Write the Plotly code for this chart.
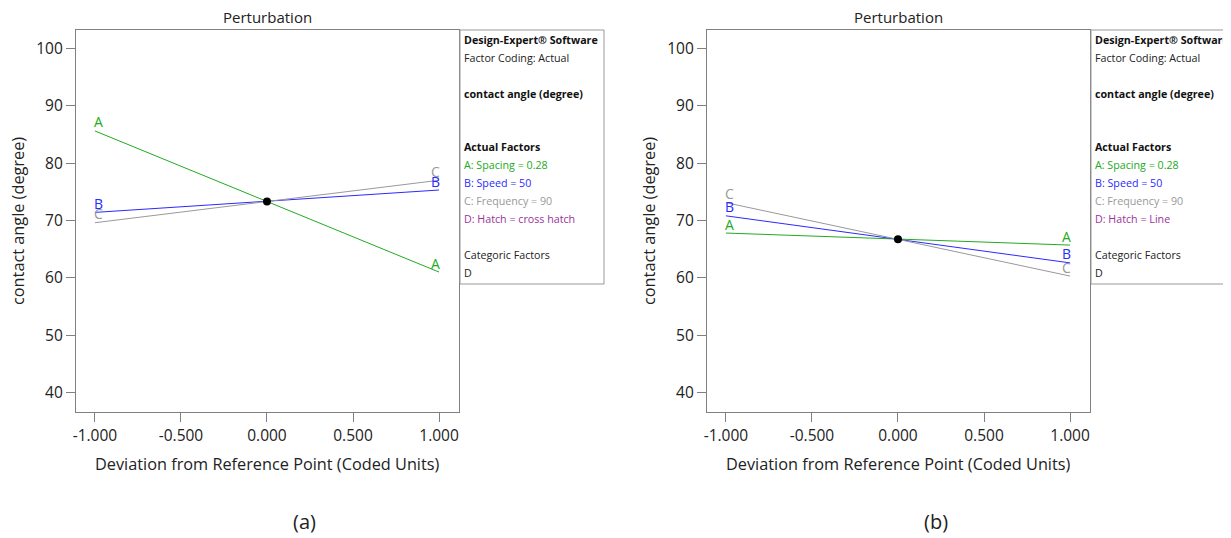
import plotly.graph_objects as go

PAGE_W, PAGE_H = 1231, 538
OFF = 8                      # default page body margin
W, H = PAGE_W - OFF, PAGE_H - OFF

# Data
x_coded = [-1.0, 0.0, 1.0]
factors = ["A", "B", "C"]
colors = {"A": "#22aa22", "B": "#2a2aff", "C": "#999999"}

a_left = [85.6, 73.3, 61.0]   # A spacing (panel a)
b_left = [71.4, 73.3, 75.3]   # B speed
c_left = [69.6, 73.3, 77.0]   # C frequency
ref_left = 73.3

a_right = [67.8, 66.7, 65.7]  # panel b
b_right = [70.8, 66.7, 62.6]
c_right = [73.1, 66.7, 60.3]
ref_right = 66.7

x_ticks = [-1.0, -0.5, 0.0, 0.5, 1.0]
x_ticktext = ["-1.000", "-0.500", "0.000", "0.500", "1.000"]
y_ticks = [40, 50, 60, 70, 80, 90, 100]

legend_left = [
    ("<b>Design-Expert® Software</b>", "#111111"),
    ("Factor Coding: Actual", "#222222"),
    ("", None),
    ("<b>contact angle (degree)</b>", "#111111"),
    ("", None), ("", None),
    ("<b>Actual Factors</b>", "#111111"),
    ("A: Spacing = 0.28", "#22aa22"),
    ("B: Speed = 50", "#2a2aff"),
    ("C: Frequency = 90", "#999999"),
    ("D: Hatch = cross hatch", "#993399"),
    ("", None),
    ("Categoric Factors", "#222222"),
    ("D", "#222222"),
]
legend_right = [(t.replace("cross hatch", "Line"), c) for t, c in legend_left]

FONT = "Open Sans, Noto Sans, sans-serif"


def px_x(p):
    return (p - OFF) / W


def px_y(p):
    return 1 - (p - OFF) / H


fig = go.Figure()

panels = [
    dict(xa="x", ya="y", series={"A": a_left, "B": b_left, "C": c_left}, ref=ref_left,
         x0=76, x1=459, legend=legend_left, lx0=460, lx1=604, tag="(a)", tagx=304),
    dict(xa="x2", ya="y2", series={"A": a_right, "B": b_right, "C": c_right}, ref=ref_right,
         x0=707, x1=1090, legend=legend_right, lx0=1091, lx1=1260, tag="(b)", tagx=936),
]

top_px, bot_px = 30, 412

annotations = []
shapes = []
for p in panels:
    for f in factors:
        fig.add_trace(go.Scatter(x=x_coded, y=p["series"][f], mode="lines",
                                 line=dict(color=colors[f], width=1),
                                 xaxis=p["xa"], yaxis=p["ya"], showlegend=False,
                                 hoverinfo="skip"))
        for xi, yi in ((x_coded[0], p["series"][f][0]), (x_coded[-1], p["series"][f][-1])):
            annotations.append(dict(x=xi, y=yi, xref=p["xa"], yref=p["ya"], text=f,
                                    showarrow=False, yshift=9, xshift=4 if xi < 0 else -4,
                                    xanchor="center", yanchor="middle",
                                    font=dict(family=FONT, size=14, color=colors[f])))
    fig.add_trace(go.Scatter(x=[0.0], y=[p["ref"]], mode="markers",
                             marker=dict(color="black", size=8),
                             xaxis=p["xa"], yaxis=p["ya"], showlegend=False))
    cx = (p["x0"] + p["x1"]) / 2
    common = dict(xref="paper", yref="paper", showarrow=False, xanchor="center", yanchor="middle")
    annotations.append(dict(x=px_x(cx), y=px_y(17), text="Perturbation",
                            font=dict(family=FONT, size=15, color="#222"), **common))
    annotations.append(dict(x=px_x(cx), y=px_y(464), text="Deviation from Reference Point (Coded Units)",
                            font=dict(family=FONT, size=16.3, color="#222"), **common))
    annotations.append(dict(x=px_x(p["x0"] - 58), y=px_y((top_px + bot_px) / 2),
                            text="contact angle (degree)", textangle=-90,
                            font=dict(family=FONT, size=16.3, color="#222"), **common))
    annotations.append(dict(x=px_x(p["tagx"]), y=px_y(521), text=p["tag"],
                            font=dict(family=FONT, size=20, color="#222"), **common))
    shapes.append(dict(type="rect", xref="paper", yref="paper",
                       x0=px_x(p["lx0"]), x1=px_x(p["lx1"]), y0=px_y(284), y1=px_y(30),
                       line=dict(color="#999999", width=1), fillcolor="rgba(0,0,0,0)"))
    for i, (t, c) in enumerate(p["legend"]):
        if not t:
            continue
        annotations.append(dict(x=px_x(p["lx0"] + 2), y=px_y(40 + i * 17.9), xref="paper", yref="paper",
                                text=t, showarrow=False, xanchor="left", yanchor="middle",
                                font=dict(family=FONT, size=10.7, color=c)))

axis_common = dict(showline=True, linecolor="#808080", linewidth=1.3, mirror=True,
                   ticks="outside", ticklen=9, tickcolor="#808080", showgrid=False, zeroline=False,
                   automargin=False,
                   tickfont=dict(family=FONT, size=15.5, color="#222"))

for i, p in enumerate(panels):
    xkey = "xaxis" if i == 0 else "xaxis2"
    ykey = "yaxis" if i == 0 else "yaxis2"
    fig.update_layout(**{
        xkey: dict(domain=[px_x(p["x0"]), px_x(p["x1"])], range=[-1.11, 1.116],
                   tickvals=x_ticks, ticktext=x_ticktext, anchor=p["ya"], **axis_common),
        ykey: dict(domain=[px_y(bot_px), px_y(top_px)], range=[36.6, 103.2],
                   tickvals=y_ticks, anchor=p["xa"], **axis_common),
    })

fig.update_layout(width=W, height=H, margin=dict(l=0, r=0, t=0, b=0, autoexpand=False),
                  plot_bgcolor="white", paper_bgcolor="white",
                  annotations=annotations, shapes=shapes, showlegend=False)

fig.write_html("out.html")
